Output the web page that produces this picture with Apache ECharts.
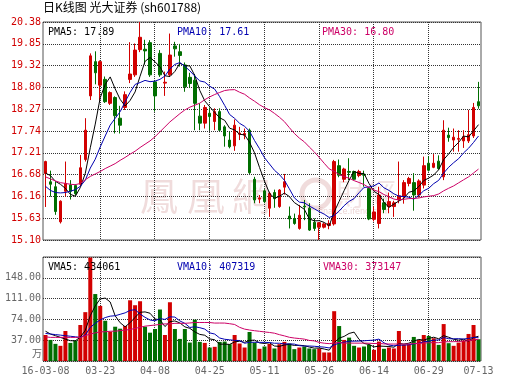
<!DOCTYPE html>
<html><head><meta charset="utf-8">
<script src="https://cdn.jsdelivr.net/npm/echarts@6/dist/echarts.min.js"></script>
<style>html,body{margin:0;padding:0;background:#fff}#c{width:530px;height:391px}</style>
</head><body><div id="c"></div>
<script>
const dates = ['16-03-08','16-03-09','16-03-10','16-03-11','16-03-14','16-03-15','16-03-16','16-03-17','16-03-18','16-03-21','16-03-22','16-03-23','16-03-24','16-03-25','16-03-28','16-03-29','16-03-30','16-03-31',
'16-04-01','16-04-05','16-04-06','16-04-07','16-04-08','16-04-11','16-04-12','16-04-13','16-04-14','16-04-15','16-04-18','16-04-19','16-04-20','16-04-21','16-04-22','16-04-25','16-04-26','16-04-27','16-04-28','16-04-29',
'16-05-03','16-05-04','16-05-05','16-05-06','16-05-09','16-05-10','16-05-11','16-05-12','16-05-13','16-05-16','16-05-17','16-05-18','16-05-19','16-05-20','16-05-23','16-05-24','16-05-25','16-05-26','16-05-27','16-05-30','16-05-31',
'16-06-01','16-06-02','16-06-03','16-06-06','16-06-07','16-06-08','16-06-13','16-06-14','16-06-15','16-06-16','16-06-17','16-06-20','16-06-21','16-06-22','16-06-23','16-06-24','16-06-27','16-06-28','16-06-29','16-06-30',
'16-07-01','16-07-04','16-07-05','16-07-06','16-07-07','16-07-08','16-07-11','16-07-12','16-07-13'];

const openP = [16.71,16.51,16.39,15.54,16.28,16.43,16.42,16.45,17.05,18.59,19.42,18.85,18.99,18.41,18.55,18.05,18.31,18.99,19.10,19.71,19.72,19.88,18.93,19.62,18.90,19.10,19.80,19.66,19.34,19.04,
18.97,18.10,17.93,18.17,17.97,18.21,17.84,17.52,17.38,17.66,17.64,17.76,16.57,16.09,16.29,15.87,16.25,15.91,16.38,15.68,15.62,15.38,15.92,15.87,15.53,15.41,15.41,15.45,15.49,16.90,
16.57,16.76,16.76,16.66,16.69,16.35,15.60,15.50,16.00,15.91,15.91,16.07,16.15,16.47,16.49,16.19,16.43,16.96,16.86,17.01,16.63,17.64,17.52,17.54,17.50,17.50,17.62,18.45];
const closeP = [17.00,16.45,15.79,16.04,16.47,16.28,16.22,16.85,17.76,19.56,19.15,19.42,18.45,18.67,18.11,17.88,18.62,19.12,19.70,20.01,19.68,19.10,18.59,19.10,18.92,19.58,19.73,19.57,18.81,18.89,
18.41,17.93,18.31,18.09,18.21,17.76,17.62,17.36,17.88,17.69,17.68,16.73,16.07,16.12,16.03,16.23,16.10,16.31,16.51,15.61,15.50,15.70,15.90,15.34,15.38,15.52,15.49,15.50,17.00,16.67,
16.82,16.74,16.57,16.76,16.67,15.61,15.78,16.19,15.84,16.03,16.00,16.17,16.49,16.59,16.19,16.53,16.90,16.79,16.96,16.83,17.76,17.58,17.59,17.56,17.60,17.65,18.31,18.35];
const lowP = [15.90,16.15,15.71,15.50,16.15,16.08,16.18,16.40,17.00,18.49,18.87,18.48,18.42,18.37,17.68,17.68,18.25,18.90,19.05,19.65,19.35,19.05,18.21,19.05,18.59,19.05,19.54,19.30,18.69,18.78,
17.76,17.76,17.80,17.76,17.76,17.74,17.36,17.32,17.26,17.52,17.54,16.70,15.99,15.99,15.99,15.66,15.88,15.88,16.20,15.38,15.47,15.35,15.58,15.32,15.32,15.10,15.38,15.36,15.45,16.62,
16.50,16.55,16.55,16.62,16.39,15.58,15.55,15.38,15.75,15.75,15.66,15.99,15.98,16.40,15.81,16.13,16.35,16.76,16.84,16.80,16.55,17.48,17.24,17.24,17.33,17.45,17.57,18.28];
const highP = [17.02,16.78,16.51,16.06,17.00,16.55,16.45,17.16,18.05,19.62,19.67,19.45,19.06,18.70,18.58,18.35,18.70,19.89,19.86,20.38,19.95,19.94,18.97,19.70,19.18,20.10,19.90,19.85,19.40,19.15,
19.12,18.41,18.37,18.31,18.29,18.29,17.88,17.72,18.02,17.84,17.80,17.80,16.63,16.19,16.33,16.27,16.32,16.33,16.70,15.91,15.74,15.95,16.07,15.99,15.62,15.53,15.52,15.58,17.04,17.05,
16.85,17.08,16.78,16.80,16.78,16.38,15.91,16.39,16.10,16.25,16.05,17.00,16.55,16.63,16.72,16.57,17.12,17.13,17.18,17.15,18.00,17.82,17.80,17.76,17.76,18.25,18.42,18.93];
// volume, in 万
const volume = [46.3,37.5,30.5,27.0,53.4,32.2,36.4,64.0,86.9,184,119.1,98.0,71.6,52.2,61.0,57.5,62.2,108.0,99.2,106.3,61.0,50.4,56.9,91.6,46.3,104.5,56.9,39.3,56.9,32.8,
73.4,34.0,32.2,24.0,25.2,34.0,34.6,29.9,46.3,31.1,24.0,51.6,32.8,21.7,25.8,30.5,22.3,29.9,34.0,31.1,21.1,24.0,25.8,22.3,21.1,22.3,15.2,15.2,88.6,62.2,
37.5,41.6,27.0,24.0,25.8,28.7,19.9,34.6,21.7,24.0,22.3,53.4,28.7,29.9,42.8,37.5,46.3,44.6,40.5,28.7,65.7,31.7,27.0,32.8,36.4,48.1,64.0,38.7];

const ma5Head = [16.72,16.66,16.52,16.45];
const ma10Head = [16.40,16.30,16.25,16.24,16.25,16.28,16.32,16.40,16.55];
const ma30Head = [16.63,16.58,16.53,16.49,16.47,16.45,16.44,16.47,16.56,16.64,16.70,16.76,16.83,16.89,16.95,17.03,17.10,17.18,17.25,17.34,17.42,17.50,17.60,17.72,17.84,17.96,18.06,18.16,18.25];
const vma5Head = [53,48,45,42];
const vma10Head = [49,48,47,46,45,44,43,42,46];
const vma30Head = [43,42,42,42,42,42,42,42,45,48,50,52,52,53,53,54,55,56,58,60,62,63,64,65,66,66,67,67,67];

const legendTexts = {pma5:'PMA5: 17.89', pma10:'PMA10: 17.61', pma30:'PMA30: 16.80', vma5:'VMA5: 434061', vma10:'VMA10: 407319', vma30:'VMA30: 373147'};
const titleText = '日K线图 光大证券 (sh601788)';
const labelIdx = [0,11,22,33,44,55,66,77,87];
const vGridIdx = [11,22,33,44,55,66,77];
const priceRange = [15.10, 20.38];
const volRange = [0, 185];

function movingAvg(vals, n, head) {
  return vals.map((v, i) => {
    if (i < n - 1) return head[i];
    let s = 0;
    for (let k = i - n + 1; k <= i; k++) s += vals[k];
    return +(s / n).toFixed(3);
  });
}

const RED = '#d20000', GREEN = '#006e00', BLUE = '#0000b0', PINK = '#cc0066';
const mono = 'DejaVu Sans Mono';
const dot = {color: '#333', type: [1, 1], width: 1};

const candles = dates.map((d, i) => [openP[i], closeP[i], lowP[i], highP[i]]);

// vertical dotted grid lines at the labelled dates; positions come from the axis via api.coord
function vLines(axisIdx, range) {
  return {
    type: 'custom', xAxisIndex: axisIdx, yAxisIndex: axisIdx, silent: true, z: 1,
    data: vGridIdx.map(i => [i, range[0], range[1]]),
    encode: {x: 0, y: [1, 2]},
    renderItem: (params, api) => {
      const idx = api.value(0);
      const top = api.coord([idx, api.value(2)]);
      const bot = api.coord([idx, api.value(1)]);
      const x = Math.floor(top[0]) + 0.5;
      return {type: 'line', shape: {x1: x, y1: top[1], x2: x, y2: bot[1]},
        style: {stroke: dot.color, lineWidth: 1, lineDash: [1, 1]}};
    }
  };
}

const chart = echarts.init(document.getElementById('c'), null, {renderer: 'canvas'});
const txt = (text, x, y, color) => ({type: 'text', x: x, y: y, silent: true, z: 50,
  style: {text: text, fill: color, font: '10px "DejaVu Sans Mono"', verticalAlign: 'middle'}});
const wm = 'rgba(200,130,130,0.28)';

const option = {
  animation: false,
  grid: [
    {left: 43, right: 49, top: 22, height: 218, show: true, borderColor: '#555', borderWidth: 1},
    {left: 43, right: 49, top: 257, height: 104, show: true, borderColor: '#555', borderWidth: 1}
  ],
  xAxis: [
    {type: 'category', gridIndex: 0, data: dates, boundaryGap: true, axisLine: {show: false}, axisTick: {show: false}, axisLabel: {show: false}, splitLine: {show: false}},
    {type: 'category', gridIndex: 1, data: dates, boundaryGap: true, axisLine: {show: false}, axisTick: {show: false},
      axisLabel: {interval: (i) => labelIdx.includes(i), formatter: (v, i) => i === 0 ? v : v.slice(3), color: '#666', fontFamily: mono, fontSize: 10, margin: 5},
      splitLine: {show: false}}
  ],
  yAxis: [
    {type: 'value', gridIndex: 0, min: priceRange[0], max: priceRange[1], interval: 0.528,
      axisLine: {show: false}, axisTick: {show: false},
      axisLabel: {formatter: v => v.toFixed(2), color: RED, fontFamily: mono, fontSize: 10, margin: 2},
      splitLine: {show: true, lineStyle: dot}},
    {type: 'value', gridIndex: 1, min: volRange[0], max: volRange[1], interval: 37,
      axisLine: {show: false}, axisTick: {show: false},
      axisLabel: {formatter: v => (v === 0 || v === 185) ? '' : v.toFixed(2), color: '#666', fontFamily: mono, fontSize: 10, margin: 2},
      splitLine: {show: true, lineStyle: dot}}
  ],
  series: [
    vLines(0, priceRange),
    vLines(1, volRange),
    {type: 'candlestick', xAxisIndex: 0, yAxisIndex: 0, data: candles, barWidth: 3, z: 2,
      itemStyle: {color: RED, color0: GREEN, borderColor: RED, borderColor0: GREEN, borderWidth: 1}},
    {type: 'line', xAxisIndex: 0, yAxisIndex: 0, data: movingAvg(closeP, 5, ma5Head), symbol: 'none', z: 3, lineStyle: {color: '#000', width: 1}},
    {type: 'line', xAxisIndex: 0, yAxisIndex: 0, data: movingAvg(closeP, 10, ma10Head), symbol: 'none', z: 3, lineStyle: {color: BLUE, width: 1}},
    {type: 'line', xAxisIndex: 0, yAxisIndex: 0, data: movingAvg(closeP, 30, ma30Head), symbol: 'none', z: 3, lineStyle: {color: PINK, width: 1}},
    {type: 'bar', xAxisIndex: 1, yAxisIndex: 1, data: volume, barWidth: 4, z: 2,
      itemStyle: {color: p => closeP[p.dataIndex] >= openP[p.dataIndex] ? RED : GREEN}},
    {type: 'line', xAxisIndex: 1, yAxisIndex: 1, data: movingAvg(volume, 5, vma5Head), symbol: 'none', z: 3, lineStyle: {color: '#000', width: 1}},
    {type: 'line', xAxisIndex: 1, yAxisIndex: 1, data: movingAvg(volume, 10, vma10Head), symbol: 'none', z: 3, lineStyle: {color: BLUE, width: 1}},
    {type: 'line', xAxisIndex: 1, yAxisIndex: 1, data: movingAvg(volume, 30, vma30Head), symbol: 'none', z: 3, lineStyle: {color: PINK, width: 1}}
  ],
  graphic: [
    {type: 'text', x: 43, y: 1, silent: true, style: {text: titleText, fill: '#000', font: '12px "Noto Sans CJK SC"', verticalAlign: 'top'}},
    {type: 'text', x: 140, y: 196, silent: true, z: -1, style: {text: '鳳', fill: wm, font: '38px "Noto Sans CJK TC"', verticalAlign: 'middle'}},
    {type: 'text', x: 187, y: 196, silent: true, z: -1, style: {text: '凰', fill: wm, font: '38px "Noto Sans CJK TC"', verticalAlign: 'middle'}},
    {type: 'text', x: 232, y: 196, silent: true, z: -1, style: {text: '網', fill: wm, font: '38px "Noto Sans CJK TC"', verticalAlign: 'middle'}},
    {type: 'circle', silent: true, z: -1, shape: {cx: 316, cy: 194, r: 14}, style: {fill: 'none', stroke: wm, lineWidth: 5}},
    {type: 'text', x: 336, y: 194, silent: true, z: -1, style: {text: '財經', fill: 'rgba(200,130,130,0.22)', font: '30px "Noto Sans CJK TC"', verticalAlign: 'middle'}},
    {type: 'text', x: 318, y: 212, silent: true, z: -1, style: {text: 'finance.ifeng.com', fill: 'rgba(200,130,130,0.35)', font: '8px "DejaVu Sans"', verticalAlign: 'middle'}},
    txt(legendTexts.pma5, 48, 32, '#000'),
    txt(legendTexts.pma10, 177, 32, BLUE),
    txt(legendTexts.pma30, 322, 32, PINK),
    txt(legendTexts.vma5, 48, 267, '#000'),
    txt(legendTexts.vma10, 177, 267, BLUE),
    txt(legendTexts.vma30, 323, 267, PINK),
    {type: 'text', x: 42, y: 353, silent: true, style: {text: '万', fill: '#666', font: '10px "Noto Sans CJK SC"', align: 'right', verticalAlign: 'middle'}}
  ]
};
chart.setOption(option);
</script>
</body></html>
